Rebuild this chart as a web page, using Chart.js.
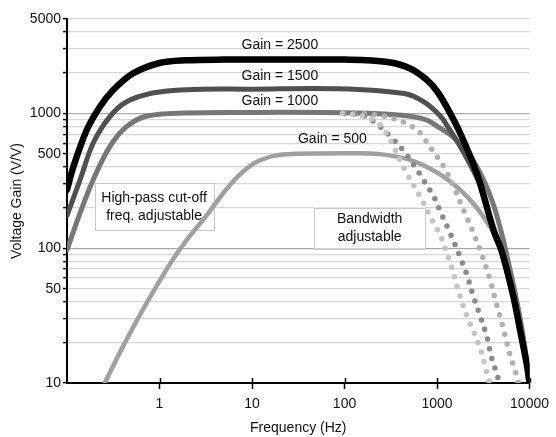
<!DOCTYPE html>
<html>
<head>
<meta charset="utf-8">
<script src="https://cdn.jsdelivr.net/npm/chart.js@4/dist/chart.umd.min.js"></script>
<style>
  body { margin: 0; background: #fff; }
  #wrap { width: 556px; height: 437px; }
</style>
</head>
<body>
<div id="wrap"><canvas id="gainChart" width="556" height="437"></canvas></div>
<script>
// frequency (Hz) / gain (V/V) pairs per curve
const freq2500 = [0.1, 0.117, 0.163, 0.226, 0.314, 0.514, 1.0, 1.92, 5, 20, 100, 292, 520, 785, 1005, 1285, 1787, 2700, 4100, 5000, 6680, 7870, 9290, 10000];
const gain2500 = [270, 400, 748, 1114, 1480, 1970, 2360, 2470, 2500, 2500, 2500, 2400, 2140, 1755, 1450, 1100, 708, 357, 135, 95, 44, 25, 14, 10];

const freq1500 = [0.1, 0.138, 0.191, 0.289, 0.437, 0.843, 1.92, 10, 85, 441, 722, 1092, 1300, 1700, 2270, 3000, 4100, 5000, 6680, 7870, 9290, 10000];
const gain1500 = [175, 319, 597, 940, 1213, 1412, 1497, 1510, 1520, 1400, 1213, 950, 800, 600, 420, 280, 132, 93, 43, 25, 14, 10];

const freq1000 = [0.1, 0.138, 0.191, 0.289, 0.437, 0.716, 1.92, 10, 100, 300, 566, 785, 1005, 1517, 2290, 3185, 4075, 5000, 6000, 7000, 8200, 9500, 10000];
const gain1000 = [97, 181, 319, 563, 792, 951, 1005, 1015, 1010, 985, 940, 887, 800, 660, 480, 320, 210, 128, 75, 46, 26, 13.5, 10];

const freq500 = [0.256, 0.402, 0.659, 0.917, 1.38, 2.09, 3.15, 4.76, 7.18, 10.8, 17.8, 30, 100, 228, 520, 1186, 2290, 3750, 5000, 6000, 7000, 8000, 9300, 10000];
const gain500 = [10, 18.6, 34.8, 51.6, 81.4, 121, 171, 250, 345, 430, 485, 500, 505, 500, 449, 337, 227, 144, 98, 68, 45, 29, 15, 10];

// dotted bandwidth curves
const freqBwA = [95, 150, 220, 280, 330, 440, 670, 890, 1090, 1190, 1450, 1720, 2110, 2490, 3050, 3310, 3700];
const gainBwA = [1000, 960, 870, 720, 590, 390, 235, 160, 124, 105, 71, 47, 31, 24, 16.6, 13.2, 10];
const freqBwB = [100, 160, 210, 317, 441, 566, 693, 925, 1092, 1285, 1517, 1862, 2110, 2490, 2810, 3460, 3910, 4425, 4700];
const gainBwB = [1000, 960, 860, 667, 520, 410, 330, 240, 185, 145, 112, 79, 63, 43, 34, 22, 15.2, 11.8, 10];
const freqBwC = [100, 250, 450, 666, 785, 1186, 1517, 1940, 2490, 3055, 3750, 4250, 4800, 5430, 6150, 6970, 7550];
const gainBwC = [1010, 960, 850, 710, 600, 400, 284, 191, 128, 89, 58, 42, 31, 22.7, 16.1, 12.5, 10];

const xTickLabels = [1, 10, 100, 1000, 10000];
const yTickLabels = [10, 50, 100, 500, 1000, 5000];
const yGridValues = [10, 20, 30, 40, 50, 60, 70, 80, 90, 100, 200, 300, 400, 500, 600, 700, 800, 900, 1000, 2000, 3000, 4000, 5000];

// text labels, anchored in data coordinates
const gainLabels = [
  { text: "Gain = 2500", f: 20, g: 3190 },
  { text: "Gain = 1500", f: 20, g: 1880 },
  { text: "Gain = 1000", f: 20, g: 1227 },
  { text: "Gain = 500", f: 74, g: 641 }
];
const noteBoxes = [
  { lines: ["High-pass cut-off", "freq. adjustable"], f: 0.873, g: 202, w: 119, h: 47 },
  { lines: ["Bandwidth", "adjustable"], f: 187, g: 141, w: 111, h: 41 }
];

const FONT = "'Liberation Sans', Arial, sans-serif";

function pts(fs, gs) {
  return fs.map((f, i) => ({ x: f, y: gs[i] }));
}

function solid(label, fs, gs, color, width) {
  return {
    label, data: pts(fs, gs),
    borderColor: color, borderWidth: width,
    pointRadius: 0, tension: 0.35,
    borderCapStyle: "round", borderJoinStyle: "round"
  };
}

function dotted(label, fs, gs, color) {
  return {
    label, data: pts(fs, gs),
    borderColor: color, borderWidth: 5.5,
    borderDash: [0, 10], borderCapStyle: "round",
    pointRadius: 0, tension: 0.35
  };
}

const notesPlugin = {
  id: "notes",
  beforeDatasetsDraw(chart) {
    const { ctx, scales: { x, y } } = chart;
    ctx.save();
    ctx.font = "14px " + FONT;
    ctx.textAlign = "center";
    ctx.textBaseline = "middle";

    noteBoxes.forEach(b => {
      const cx = x.getPixelForValue(b.f);
      const cy = y.getPixelForValue(b.g);
      ctx.fillStyle = "#fff";
      ctx.fillRect(cx - b.w / 2, cy - b.h / 2, b.w, b.h);
      ctx.strokeStyle = "#c8c8c8";
      ctx.lineWidth = 1;
      ctx.strokeRect(Math.round(cx - b.w / 2) + 0.5, Math.round(cy - b.h / 2) + 0.5, b.w, b.h);
      ctx.fillStyle = "#111";
      const lh = 18.5;
      b.lines.forEach((t, i) => {
        ctx.fillText(t, cx, cy + (i - (b.lines.length - 1) / 2) * lh);
      });
    });

    ctx.fillStyle = "#111";
    gainLabels.forEach(l => {
      ctx.fillText(l.text, x.getPixelForValue(l.f), y.getPixelForValue(l.g));
    });
    ctx.restore();
  },
  afterDraw(chart) {
    // x tick marks cross the axis line
    const { ctx, scales: { x } } = chart;
    ctx.save();
    ctx.strokeStyle = "#000";
    ctx.lineWidth = 1.5;
    xTickLabels.forEach(v => {
      const px = Math.round(x.getPixelForValue(v)) + 0.5;
      ctx.beginPath();
      ctx.moveTo(px, x.top);
      ctx.lineTo(px, x.top - 5);
      ctx.stroke();
    });
    ctx.restore();
  }
};

new Chart(document.getElementById("gainChart").getContext("2d"), {
  type: "line",
  data: {
    datasets: [
      solid("Gain = 2500", freq2500, gain2500, "#000000", 6.5),
      dotted("BW a", freqBwA, gainBwA, "#c4c4c4"),
      dotted("BW b", freqBwB, gainBwB, "#8a8a8a"),
      dotted("BW c", freqBwC, gainBwC, "#b0b0b0"),
      solid("Gain = 1500", freq1500, gain1500, "#505050", 5),
      solid("Gain = 1000", freq1000, gain1000, "#777777", 5),
      solid("Gain = 500", freq500, gain500, "#a0a0a0", 4.5)
    ]
  },
  options: {
    responsive: false,
    animation: false,
    events: [],
    layout: { padding: { top: 19, right: 23, left: 0, bottom: 0 } },
    plugins: {
      legend: { display: false },
      tooltip: { enabled: false }
    },
    scales: {
      x: {
        type: "logarithmic",
        min: 0.1,
        max: 10000,
        afterBuildTicks: s => { s.ticks = xTickLabels.map(v => ({ value: v })); },
        afterFit: s => { s.height = 54; },
        ticks: {
          autoSkip: false, maxRotation: 0, padding: 7,
          color: "#111", font: { family: FONT, size: 14 },
          callback: v => String(v)
        },
        grid: { drawOnChartArea: false, tickLength: 6, tickColor: "#000", tickWidth: 1.5 },
        border: { color: "#000", width: 2 },
        title: {
          display: true, text: "Frequency (Hz)", color: "#111",
          font: { family: FONT, size: 14 }, padding: { top: 0, bottom: 0 }
        }
      },
      y: {
        type: "logarithmic",
        min: 10,
        max: 5000,
        afterBuildTicks: s => { s.ticks = yGridValues.map(v => ({ value: v })); },
        afterFit: s => { s.width = 67; },
        ticks: {
          autoSkip: false, padding: 2,
          color: "#111", font: { family: FONT, size: 14 },
          callback: v => (yTickLabels.includes(v) ? String(v) : "")
        },
        grid: {
          color: c => ([100, 1000].includes(c.tick && c.tick.value) ? "#a8a8a8" : "#d6d6d6"),
          lineWidth: 1.2,
          tickLength: 4,
          tickColor: "#000",
          tickWidth: 1.5
        },
        border: { color: "#000", width: 2 },
        title: {
          display: true, text: "Voltage Gain (V/V)", color: "#111",
          font: { family: FONT, size: 14 }, padding: { top: 9, bottom: 0 }
        }
      }
    }
  },
  plugins: [notesPlugin]
});
</script>
</body>
</html>
